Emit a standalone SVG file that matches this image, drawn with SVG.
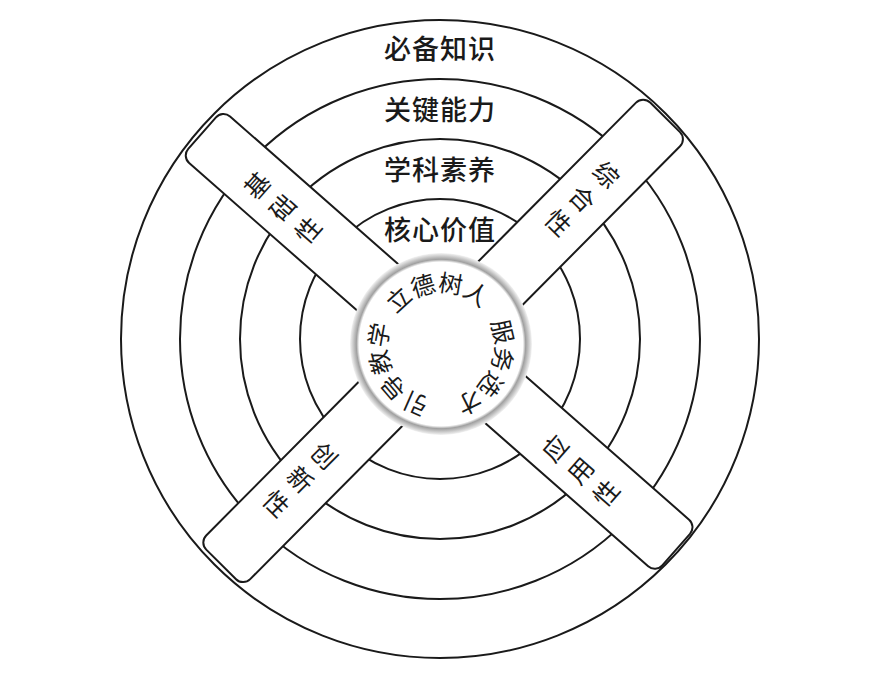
<svg xmlns="http://www.w3.org/2000/svg" xmlns:xlink="http://www.w3.org/1999/xlink" width="878" height="684" viewBox="0 0 878 684">
  <style>
    .ring { fill: none; stroke: #1a1a1a; stroke-width: 2; }
    .band { fill: #ffffff; stroke: #1a1a1a; stroke-width: 2; }
    .lbl { font-family: "Noto Sans CJK SC", "Noto Sans", sans-serif; font-size: 27px; font-weight: 500; fill: #1a1a1a; text-anchor: middle; letter-spacing: 1px; }
    .blbl { font-family: "Noto Sans CJK SC", "Noto Sans", sans-serif; font-size: 25px; font-weight: 400; fill: #1a1a1a; text-anchor: middle; }
    .clbl { font-family: "Noto Sans CJK SC", "Noto Sans", sans-serif; font-size: 24px; font-weight: 400; fill: #1a1a1a; text-anchor: middle; }
  </style>
  <defs>
    <radialGradient id="hubGrad" cx="0.5" cy="0.5" r="0.5">
      <stop offset="0" stop-color="#ffffff"/>
      <stop offset="0.9" stop-color="#ffffff"/>
      <stop offset="0.93" stop-color="#a0a0a0"/>
      <stop offset="0.96" stop-color="#c4c4c4"/>
      <stop offset="1" stop-color="#f4f4f4"/>
    </radialGradient>
    <path id="hubPath" d="M394.2,319 A54,54 0 1 1 487.8,373 A54,54 0 1 1 394.2,319"/>
  </defs>
  <rect width="878" height="684" fill="#ffffff"/>

  <g id="rings">
    <circle class="ring" cx="440" cy="339" r="319"/>
    <circle class="ring" cx="440" cy="339" r="260"/>
    <circle class="ring" cx="440" cy="339" r="200"/>
    <circle class="ring" cx="440" cy="339" r="140"/>
  </g>

  <g id="ring-labels">
    <text class="lbl" x="440" y="59">必备知识</text>
    <text class="lbl" x="440" y="120">关键能力</text>
    <text class="lbl" x="440" y="180">学科素养</text>
    <text class="lbl" x="440" y="240">核心价值</text>
  </g>

  <g id="band-jichu">
    <rect class="band" x="60" y="-31" width="258" height="62" rx="10" transform="translate(441,343) rotate(221.3)"/>
    <text class="blbl" transform="translate(283,208) rotate(-48.7)"><tspan x="0" y="-25">基</tspan><tspan x="0" y="9">础</tspan><tspan x="0" y="43">性</tspan></text>
  </g>

  <g id="band-zonghe">
    <rect class="band" x="60" y="-31" width="258" height="62" rx="10" transform="translate(441,343) rotate(-45.2)"/>
    <text class="blbl" transform="translate(582,199) rotate(45)"><tspan x="0" y="-25">综</tspan><tspan x="0" y="9">合</tspan><tspan x="0" y="43">性</tspan></text>
  </g>

  <g id="band-chuangxin">
    <rect class="band" x="60" y="-31" width="252" height="62" rx="10" transform="translate(441,343) rotate(134.8)"/>
    <text class="blbl" transform="translate(300,480) rotate(45)"><tspan x="0" y="-25">创</tspan><tspan x="0" y="9">新</tspan><tspan x="0" y="43">性</tspan></text>
  </g>

  <g id="band-yingyong">
    <rect class="band" x="60" y="-31" width="253" height="62" rx="10" transform="translate(441,343) rotate(41.3)"/>
    <text class="blbl" transform="translate(581,471) rotate(-48.7)"><tspan x="0" y="-25">应</tspan><tspan x="0" y="9">用</tspan><tspan x="0" y="43">性</tspan></text>
  </g>

  <g id="hub">
    <circle cx="441" cy="344" r="91" fill="url(#hubGrad)"/>
    <text class="clbl"><textPath xlink:href="#hubPath" href="#hubPath" startOffset="52.8">立德树人</textPath></text>
    <text class="clbl"><textPath xlink:href="#hubPath" href="#hubPath" startOffset="164.9">服务选才</textPath></text>
    <text class="clbl"><textPath xlink:href="#hubPath" href="#hubPath" startOffset="284.4">引导教学</textPath></text>
  </g>
</svg>
